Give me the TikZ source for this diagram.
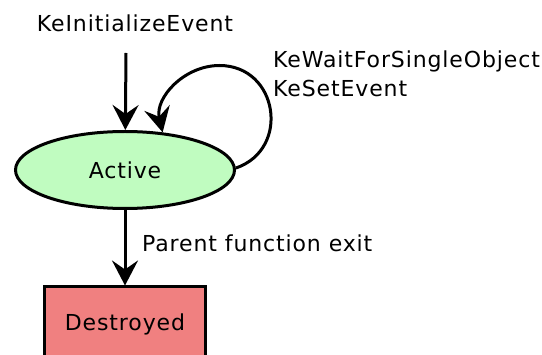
\documentclass[tikz,border=0pt]{standalone}
\usepackage{fontspec}
\setmainfont{DejaVu Sans}[LetterSpace=4]
\usetikzlibrary{arrows.meta,shapes.geometric}

\definecolor{activefill}{HTML}{C0FCC0}
\definecolor{destroyedfill}{HTML}{F08080}

\tikzset{
  every node/.style={font=\fontsize{22}{29}\selectfont},
  statebox/.style={draw, line width=3pt, inner sep=0pt},
  arr/.style={line width=3pt, -{Stealth[length=25pt,width=26pt,inset=9pt]}},
  lbl/.style={inner sep=0pt, align=left}
}

\begin{document}
\begin{tikzpicture}[x=1pt,y=1pt]
  \useasboundingbox (0,0) rectangle (542,-355);
  \clip (0,0) rectangle (542,-355);

  % states
  \node[statebox, ellipse, fill=activefill, minimum width=219pt, minimum height=77pt]
    (active) at (125,-170) {Active};
  \node[statebox, rectangle, fill=destroyedfill, minimum width=161pt, minimum height=70pt,
        text depth=0pt]
    (destroyed) at (125,-322) {Destroyed};

  % entry transition
  \coordinate (init) at (126,-53);
  \node[lbl, anchor=base] (initlbl) at (135,-32) {KeInitializeEvent};
  \draw[arr] (init) -- (active);

  % self loop on the active state
  \coordinate (looptop) at (219.5,-65.5);
  \draw[arr] (active.1) to[out=19, in=0, looseness=1.44] (looptop)
                        to[out=180, in=103, looseness=1.03] (active.45);
  \node[lbl, anchor=north west] (looplbl) at (273,-51) {KeWaitForSingleObject\\KeSetEvent};

  % exit transition
  \draw[arr] (active) -- (destroyed);
  \node[lbl, anchor=base west] (exitlbl) at (142,-252) {Parent function exit};
\end{tikzpicture}
\end{document}
